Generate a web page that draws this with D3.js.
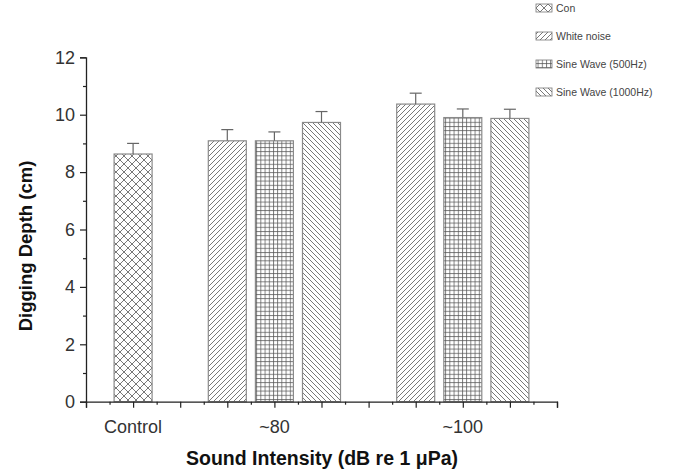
<!DOCTYPE html>
<html><head><meta charset="utf-8">
<script src="https://cdn.jsdelivr.net/npm/d3@7"></script>
<style>body{margin:0;background:#fff}svg{display:block}</style>
</head><body>
<svg id="chart" width="675" height="472"></svg>
<script>
const seriesNames = ["Con", "White noise", "Sine Wave (500Hz)", "Sine Wave (1000Hz)"];
const groupLabels = ["Control", "~80", "~100"];
const groupPositions = [1, 4, 8];
const barPositions = [1, 3, 4, 5, 7, 8, 9];
const barSeries = [0, 1, 2, 3, 1, 2, 3];
const barMeans = [8.63, 9.09, 9.09, 9.73, 10.37, 9.90, 9.87];
const barErrors = [0.37, 0.39, 0.31, 0.38, 0.38, 0.30, 0.32];
const yTicks = [0, 2, 4, 6, 8, 10, 12];

const svg = d3.select("#chart");
const x = d3.scaleLinear().domain([0, 10]).range([86, 557]);
const y = d3.scaleLinear().domain([0, 12]).range([401.7, 57.3]);
const barW = 38;
const font = "Liberation Sans, Arial, sans-serif";

// patterns
const defs = svg.append("defs");
const pc = "#555";
function pat(id, size, draw) {
  const p = defs.append("pattern").attr("id", id).attr("patternUnits", "userSpaceOnUse")
    .attr("width", size).attr("height", size);
  p.append("rect").attr("width", size).attr("height", size).attr("fill", "#fff");
  draw(p, size);
}
pat("p0", 8, (p, s) => {
  p.append("path").attr("d", `M0,0L${s},${s}M${s},0L0,${s}M-1,${s-1}L1,${s+1}M${s-1},-1L${s+1},1M-1,1L1,-1M${s-1},${s+1}L${s+1},${s-1}`)
    .attr("stroke", pc).attr("stroke-width", 0.8).attr("fill", "none");
});
pat("p1", 5, (p, s) => {
  p.append("path").attr("d", `M0,${s}L${s},0M-1,1L1,-1M${s-1},${s+1}L${s+1},${s-1}`)
    .attr("stroke", pc).attr("stroke-width", 0.8).attr("fill", "none");
});
pat("p2", 4.2, (p, s) => {
  p.append("path").attr("d", `M0,0.5H${s}M0.5,0V${s}`)
    .attr("stroke", "#555").attr("stroke-width", 0.75).attr("fill", "none");
});
pat("p3", 5, (p, s) => {
  p.append("path").attr("d", `M0,0L${s},${s}M${s-1},-1L${s+1},1M-1,${s-1}L1,${s+1}`)
    .attr("stroke", pc).attr("stroke-width", 0.8).attr("fill", "none");
});

// bars
const idx = d3.range(barMeans.length);
svg.append("g").selectAll("rect").data(idx).join("rect")
  .attr("x", i => x(barPositions[i]) - barW / 2)
  .attr("y", i => y(barMeans[i]))
  .attr("width", barW)
  .attr("height", i => y(0) - y(barMeans[i]))
  .attr("fill", i => `url(#p${barSeries[i]})`)
  .attr("stroke", "#8a8a8a").attr("stroke-width", 1.2);

// error bars
const eg = svg.append("g").attr("stroke", "#666").attr("stroke-width", 1.2);
idx.forEach(i => {
  const cx = x(barPositions[i]);
  eg.append("line").attr("x1", cx).attr("x2", cx)
    .attr("y1", y(barMeans[i])).attr("y2", y(barMeans[i] + barErrors[i]));
  eg.append("line").attr("x1", cx - 6).attr("x2", cx + 6)
    .attr("y1", y(barMeans[i] + barErrors[i])).attr("y2", y(barMeans[i] + barErrors[i]));
});

// y axis
const yAxis = svg.append("g").attr("transform", `translate(${x(0)},0)`)
  .call(d3.axisLeft(y).tickValues(yTicks).tickSize(6).tickPadding(5).tickFormat(d3.format("d")));
svg.append("g").attr("transform", `translate(${x(0)},0)`)
  .call(d3.axisLeft(y).tickValues([1, 3, 5, 7, 9, 11]).tickSize(3).tickFormat(""))
  .select(".domain").remove();
yAxis.selectAll("text").attr("font-family", font)
  .attr("font-size", 18).attr("fill", "#333");

// x axis
svg.append("g").attr("transform", `translate(0,${y(0)})`)
  .call(d3.axisBottom(x).tickValues(d3.range(0, 11)).tickSize(6).tickFormat(""));
svg.append("g").attr("transform", `translate(0,${y(0)})`)
  .call(d3.axisBottom(x).tickValues(d3.range(0.5, 10, 1)).tickSize(3).tickFormat(""))
  .select(".domain").remove();
svg.selectAll(".domain").attr("stroke", "#222").attr("stroke-width", 1.3);
svg.selectAll(".tick line").attr("stroke", "#222").attr("stroke-width", 1.2);

svg.append("g").selectAll("text").data(groupLabels).join("text")
  .attr("x", (d, i) => x(groupPositions[i])).attr("y", 433)
  .attr("text-anchor", "middle")
  .attr("font-family", font).attr("font-size", 18).attr("fill", "#333")
  .text(d => d);

// titles
svg.append("text").attr("x", 322).attr("y", 465).attr("text-anchor", "middle")
  .attr("font-family", font).attr("font-weight", "bold")
  .attr("font-size", 19.5).attr("fill", "#111").text("Sound Intensity (dB re 1 μPa)");
svg.append("text").attr("transform", "translate(32,246) rotate(-90)").attr("text-anchor", "middle")
  .attr("font-family", font).attr("font-weight", "bold")
  .attr("font-size", 18.5).attr("fill", "#111").text("Digging Depth (cm)");

// legend
const lg = svg.append("g");
seriesNames.forEach((name, i) => {
  const yy = 8 + i * 28;
  lg.append("rect").attr("x", 536).attr("y", yy - 4).attr("width", 16).attr("height", 8)
    .attr("fill", `url(#p${i})`).attr("stroke", "#777").attr("stroke-width", 0.8);
  lg.append("text").attr("x", 556).attr("y", yy + 3.5)
    .attr("font-family", font).attr("font-size", 10.5).attr("fill", "#444")
    .text(name);
});
</script>
</body></html>
